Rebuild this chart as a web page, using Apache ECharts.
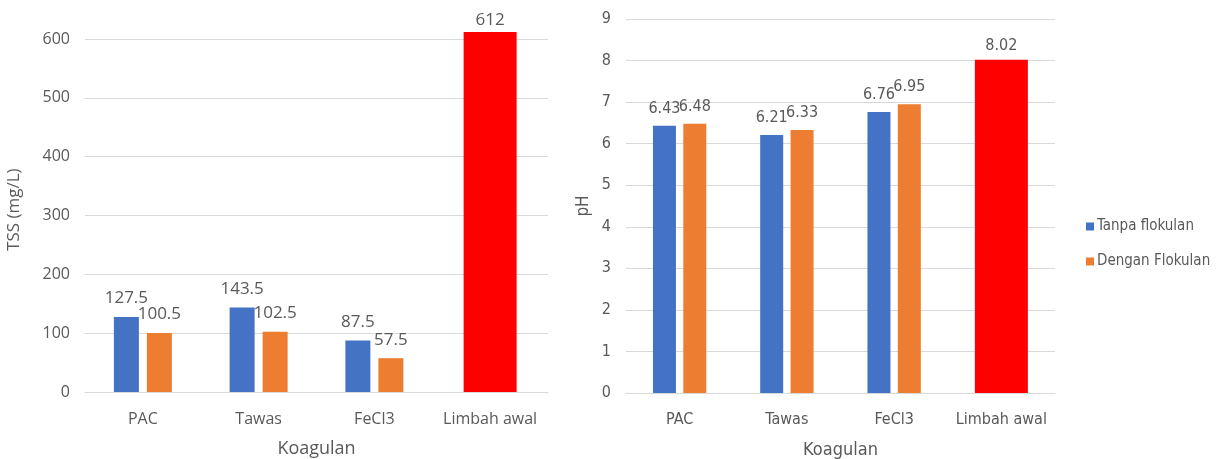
<!DOCTYPE html>
<html>
<head>
<meta charset="utf-8">
<script src="https://cdn.jsdelivr.net/npm/echarts@6/dist/echarts.min.js"></script>
<style>
  html, body { margin: 0; padding: 0; background: #fff; }
  #chart { width: 1224px; height: 459px; }
</style>
</head>
<body>
<div id="chart"></div>
<script>
// kategori koagulan
const categories = ['PAC', 'Tawas', 'FeCl3', 'Limbah awal']
// TSS (mg/L)
const tssTanpa = [127.5, 143.5, 87.5, '-']
const tssDengan = [100.5, 102.5, 57.5, '-']
const tssAwal = ['-', '-', '-', 612]
// pH
const phTanpa = [6.43, 6.21, 6.76, '-']
const phDengan = [6.48, 6.33, 6.95, '-']
const phAwal = ['-', '-', '-', 8.02]

const seriesNames = ['Tanpa flokulan', 'Dengan Flokulan']

const textColor = '#595959'
const gridColor = '#d9d9d9'
const leftFont = '"Open Sans", sans-serif'
const rightFont = '"Liberation Sans Narrow", "DejaVu Sans Condensed", sans-serif'

const myChart = echarts.init(document.getElementById('chart'))

function catAxis (gridIndex, font, size, show) {
  return {
    type: 'category',
    gridIndex: gridIndex,
    data: categories,
    show: show,
    name: show ? 'Koagulan' : '',
    nameLocation: 'middle',
    nameGap: 48,
    nameTextStyle: { color: textColor, fontSize: size + 2, fontFamily: font },
    axisTick: { show: false },
    axisLine: { lineStyle: { color: gridColor } },
    axisLabel: { color: textColor, fontSize: size, fontFamily: font, margin: 19, interval: 0 }
  }
}

function valAxis (gridIndex, font, size, showMax, opts) {
  return Object.assign({
    type: 'value',
    gridIndex: gridIndex,
    min: 0,
    nameLocation: 'middle',
    nameRotate: 90,
    nameTextStyle: { color: textColor, fontSize: size + 1, fontFamily: font },
    axisLine: { show: false },
    axisTick: { show: false },
    axisLabel: { color: textColor, fontSize: size, fontFamily: font, margin: 15, showMaxLabel: showMax },
    splitLine: { showMaxLine: showMax, lineStyle: { color: gridColor } }
  }, opts)
}

function bar (name, data, color, xi, yi, width, font, size, dist) {
  return {
    name: name,
    type: 'bar',
    xAxisIndex: xi,
    yAxisIndex: yi,
    data: data,
    barWidth: width,
    barGap: '32%',
    itemStyle: { color: color },
    label: {
      show: true,
      position: 'top',
      distance: dist,
      color: textColor,
      fontSize: size,
      fontFamily: font
    }
  }
}

const options = {
  animation: false,
  grid: [
    { left: 85, right: 676, top: 27.3, bottom: 67, outerBoundsMode: 'none' },
    { left: 626, right: 169, top: 19, bottom: 66, outerBoundsMode: 'none' }
  ],
  legend: {
    data: seriesNames,
    orient: 'vertical',
    left: 1081,
    top: 214,
    icon: 'rect',
    itemWidth: 8,
    itemHeight: 8,
    itemGap: 20,
    itemStyle: { borderWidth: 0 },
    textStyle: { color: textColor, fontSize: 15, fontFamily: rightFont, padding: [0, 0, 0, -2] }
  },
  xAxis: [
    catAxis(0, leftFont, 16, true),
    catAxis(0, leftFont, 16, false),
    catAxis(1, rightFont, 16, true),
    catAxis(1, rightFont, 16, false)
  ],
  yAxis: [
    valAxis(0, leftFont, 16, false, { max: 620, interval: 100, name: 'TSS (mg/L)', nameGap: 62 }),
    valAxis(1, rightFont, 16, true, { max: 9, interval: 1, name: 'pH', nameGap: 34 })
  ],
  series: [
    bar(seriesNames[0], tssTanpa, '#4472C4', 0, 0, 25, leftFont, 17, 10),
    bar(seriesNames[1], tssDengan, '#ED7D31', 0, 0, 25, leftFont, 17, 10),
    bar('Limbah awal TSS', tssAwal, '#FF0000', 1, 0, 53, leftFont, 17, 3),
    bar(seriesNames[0], phTanpa, '#4472C4', 2, 1, 23, rightFont, 16, 9),
    bar(seriesNames[1], phDengan, '#ED7D31', 2, 1, 23, rightFont, 16, 9),
    bar('Limbah awal pH', phAwal, '#FF0000', 3, 1, 53, rightFont, 16, 6)
  ]
}

myChart.setOption(options)
</script>
</body>
</html>
